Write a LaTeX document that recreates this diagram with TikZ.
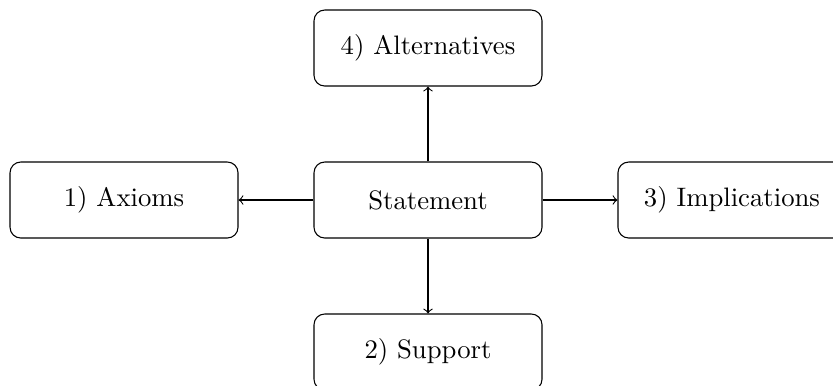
\documentclass[tikz,border=0pt]{standalone}
\usepackage{tikz}
\usetikzlibrary{positioning,shapes}

\begin{document}
\begin{tikzpicture}[->, box/.style={draw, rectangle, rounded corners, minimum width=3cm, minimum height=1cm}]
            \useasboundingbox (-5.632,-2.447) rectangle (5.329,2.632);
            \node[box] (stmt) at (0cm, 0cm){Statement};
            \node[box] (axioms) at (-4cm, 0cm){1) Axioms};
            \node[box] (support) at (0cm, -2cm){2) Support};
            \node[box] (impl) at (4cm, 0cm){3) Implications};
            \node[box] (alt) at (0cm, 2cm){4) Alternatives};
            
            \path
            (stmt) edge (axioms)
            (stmt) edge (support)
            (stmt) edge (impl)
            (stmt) edge (alt);
            
            \end{tikzpicture}
\end{document}
